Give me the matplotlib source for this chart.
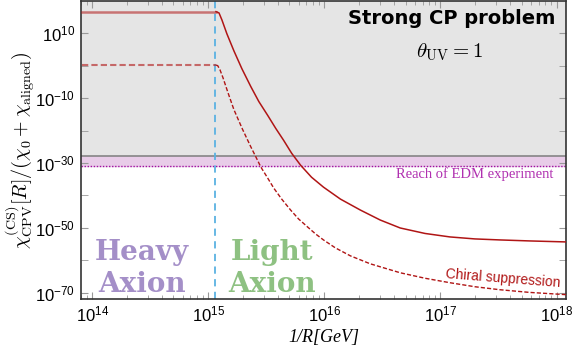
import numpy as np
import matplotlib
matplotlib.use("Agg")
import matplotlib.pyplot as plt
from matplotlib import ticker

plt.rcParams['font.family'] = ['Liberation Sans', 'DejaVu Sans']
plt.rcParams['mathtext.fontset'] = 'custom'
plt.rcParams['mathtext.rm'] = 'Liberation Sans'
plt.rcParams['mathtext.it'] = 'Liberation Sans:italic'
plt.rcParams['mathtext.bf'] = 'Liberation Sans:bold'

# log10(1/R [GeV]) and log10(chi ratio)
solid_logx = [13.908, 15.066, 15.092, 15.117, 15.160, 15.220, 15.289, 15.366, 15.435,
              15.512, 15.581, 15.649, 15.718, 15.795, 15.889, 15.992, 16.138, 16.310,
              16.481, 16.653, 16.867, 17.082, 17.296, 17.510, 17.768, 18.085]
solid_logy = [16.63, 16.63, 16.23, 14.08, 9.79, 4.57, -0.95, -6.47, -11.07,
              -15.37, -19.36, -23.04, -27.02, -30.70, -34.39, -37.45, -41.13, -44.51,
              -47.58, -50.03, -51.72, -52.79, -53.40, -53.71, -54.02, -54.33]

dash_logx = [13.908, 15.066, 15.081, 15.100, 15.126, 15.169, 15.220, 15.295, 15.366,
             15.409, 15.452, 15.512, 15.564, 15.632, 15.709, 15.778, 15.855, 15.924,
             15.992, 16.095, 16.224, 16.395, 16.653, 16.867, 17.082, 17.296, 17.510,
             17.768, 18.085]
dash_logy = [0.18, 0.18, -0.03, -1.26, -3.71, -8.31, -13.53, -19.66, -25.03,
             -28.10, -31.23, -34.69, -37.76, -41.13, -44.51, -47.27, -49.72, -51.87,
             -53.71, -56.17, -58.62, -61.07, -63.83, -65.52, -66.90, -68.13, -69.05,
             -69.88, -70.58]

split_logx = 15.057        # heavy / light axion boundary
edm_top = 1.3e-28
edm_reach = 1e-31

xlim = (8e13, 1.2e18)
ylim = (1e-72, 1e20)

fig = plt.figure(figsize=(5.72, 3.45), dpi=100)
ax = fig.add_axes([0.1416, 0.1325, 0.8475, 0.8655])

# shaded regions
ax.axhspan(edm_top, ylim[1], color='#e5e5e5', zorder=0)
ax.axhspan(edm_reach, edm_top, color='#e8cce8', zorder=0)
ax.axhline(edm_top, color='#858585', lw=1.2, zorder=1)
ax.axhline(edm_reach, color='#a010a0', lw=1.0, ls=(0, (1, 1.2)), zorder=1)

sx = 10 ** np.array(solid_logx)
sy = 10 ** np.array(solid_logy)
dx = 10 ** np.array(dash_logx)
dy = 10 ** np.array(dash_logy)

red = '#b01515'
ax.plot(sx[:2], sy[:2], color=red, lw=1.8, alpha=0.55, zorder=3)
ax.plot(sx[1:], sy[1:], color=red, lw=1.1, zorder=3)
ax.plot(dx[:2], dy[:2], color=red, lw=1.5, alpha=0.6, ls=(0, (3, 1.5)), zorder=3)
ax.plot(dx[1:], dy[1:], color=red, lw=1.0, ls=(0, (3, 1.5)), zorder=3)

ax.axvline(10 ** split_logx, color='#5ab2e2', lw=1.3, ls=(0, (4, 3)), zorder=2)

ax.set_xscale('log')
ax.set_yscale('log')
ax.set_xlim(*xlim)
ax.set_ylim(*ylim)

ax.yaxis.set_major_locator(ticker.FixedLocator([10.0 ** e for e in range(-70, 11, 20)]))
ax.yaxis.set_minor_locator(ticker.FixedLocator([10.0 ** e for e in range(-60, 20, 20)]))
ax.yaxis.set_minor_formatter(ticker.NullFormatter())
ax.xaxis.set_major_locator(ticker.LogLocator(base=10, numticks=10))
ax.xaxis.set_minor_locator(ticker.LogLocator(base=10, subs=np.arange(2, 10), numticks=20))
ax.xaxis.set_minor_formatter(ticker.NullFormatter())

ax.tick_params(which='both', direction='in', top=True, right=True, color='#999999')
ax.tick_params(which='major', length=5, labelsize=12, labelcolor='black', pad=4)
ax.tick_params(axis='y', which='minor', length=5)
ax.tick_params(axis='x', which='minor', length=3)
for s in ax.spines.values():
    s.set_color('#333333')
    s.set_linewidth(1.2)

ax.set_xlabel('1/R[GeV]', fontsize=13, family=['Liberation Serif'], style='italic', labelpad=3)
ax.set_ylabel(r'$\chi^{(\rm CS)}_{\rm CPV}[R]/(\chi_0+\chi_{\rm aligned})$',
              fontsize=14.5, math_fontfamily='cm', labelpad=-1)

ax.text(0.978, 0.942, 'Strong CP problem', transform=ax.transAxes, ha='right', va='center',
        fontsize=14, fontweight='bold', family=['DejaVu Sans'])
ax.text(0.761, 0.828, r'$\theta_{\rm UV}=1$', transform=ax.transAxes, ha='center', va='center',
        fontsize=15, math_fontfamily='cm')
ax.text(0.975, 0.42, 'Reach of EDM experiment', transform=ax.transAxes, ha='right', va='center',
        fontsize=10.5, color='#b030b0', family=['Liberation Serif'])
ax.text(0.870, 0.069, 'Chiral suppression', transform=ax.transAxes, ha='center', va='center',
        fontsize=10, color=red, rotation=-4.5)

ax.text(0.125, 0.102, 'Heavy\nAxion', transform=ax.transAxes, ha='center', va='center',
        fontsize=20, fontweight='bold', color='#a48fc8', family=['DejaVu Serif'],
        linespacing=1.25)
ax.text(0.394, 0.102, 'Light\nAxion', transform=ax.transAxes, ha='center', va='center',
        fontsize=20, fontweight='bold', color='#8ec182', family=['DejaVu Serif'],
        linespacing=1.25)

fig.savefig('out.png', dpi=100)
